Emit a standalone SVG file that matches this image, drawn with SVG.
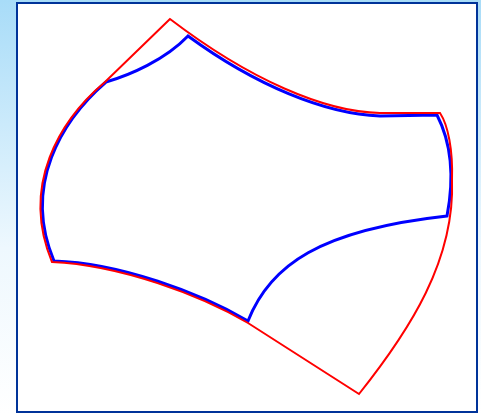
<svg xmlns="http://www.w3.org/2000/svg" width="481" height="414" viewBox="0 0 481 414">
<defs>
<linearGradient id="bg" x1="0" y1="0" x2="0" y2="1">
<stop offset="0" stop-color="#a8dcf8"/>
<stop offset="0.6" stop-color="#eef8fe"/>
<stop offset="1" stop-color="#ffffff"/>
</linearGradient>
</defs>
<style>
.red{fill:none;stroke:#ff0000;stroke-width:2;stroke-linejoin:miter}
.blue{fill:none;stroke:#0000ff;stroke-width:3;stroke-linejoin:miter}
</style>
<rect x="0" y="0" width="481" height="414" fill="url(#bg)"/>
<rect id="frame" x="17" y="3" width="460" height="409" fill="#ffffff" stroke="#003399" stroke-width="2"/>
<g id="blue-shape">
<path class="blue" d="M188,36 C165,60 130,75 106,82 C62,120 22,185 54,261 C120,263 200,293 248,321 C270,265 320,230 447,216 C452,190 455,150 437,115 L380,116 C325,114 255,85 188,36 Z"/>
</g>
<g id="red-shape">
<path class="red" d="M170,19 L105,82 C60,120 20,185 52,262 C120,265 200,295 248,323 L359,394 C410,330 455,260 452,180 C453,150 448,125 440,113 L380,113 C325,112 250,80 170,19 Z"/>
</g>
</svg>
